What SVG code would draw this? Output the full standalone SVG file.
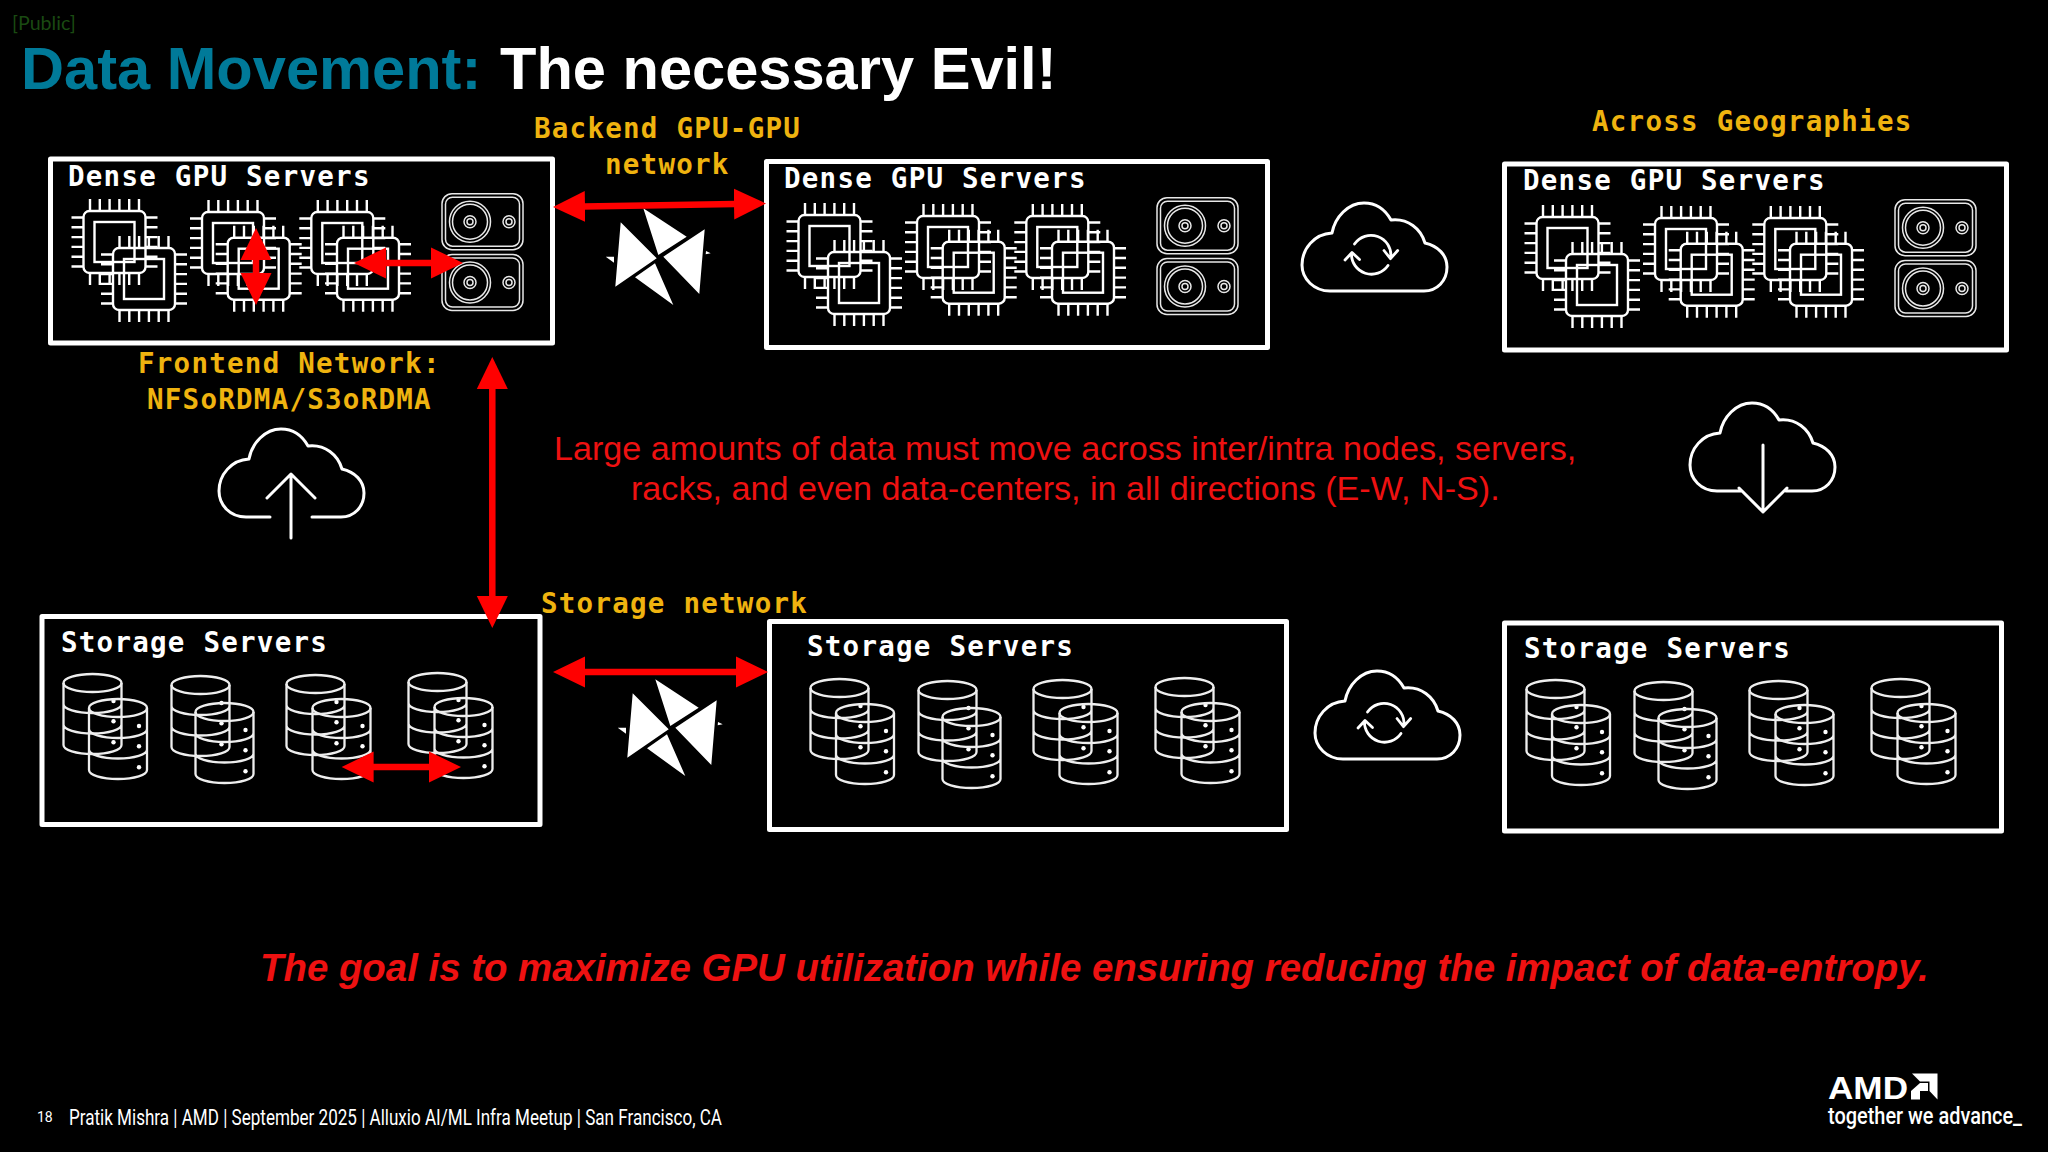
<svg xmlns="http://www.w3.org/2000/svg" width="2048" height="1152" viewBox="0 0 2048 1152">
<style>
.box{fill:none;stroke:#fff;stroke-width:5;stroke-linejoin:round}
.ic{fill:none;stroke:#fff;stroke-width:2.4;stroke-linecap:butt}
.thin{fill:none;stroke:#e8e8e8;stroke-width:1.5}
.cyl{fill:none;stroke:#eee;stroke-width:2.3}
.cloud{fill:none;stroke:#fff;stroke-width:3;stroke-linecap:round;stroke-linejoin:round}
.mono{font-family:"DejaVu Sans Mono","Liberation Mono",monospace;font-weight:700;font-size:27.5px;letter-spacing:1.25px}
.lab{fill:#fff}
.yel{fill:#efb30f}
.red{font-family:"Liberation Sans",Arial,sans-serif;fill:#ee1111;font-size:34.14px}
.conn{fill:none;stroke:#ff0000;stroke-width:6.5;marker-start:url(#ah);marker-end:url(#ah)}
</style>
<defs>
<marker id="ah" markerUnits="userSpaceOnUse" markerWidth="34" markerHeight="34" refX="1" refY="16" orient="auto-start-reverse" viewBox="0 0 34 32"><path d="M0 0.5L32 16L0 31.5Z" fill="#ff0000"/></marker>
<g id="chip">
<rect class="ic" x="-31" y="-31" width="62" height="62" rx="6"/>
<rect class="ic" x="-20" y="-20" width="40" height="40"/>
<path class="ic" d="M-24.5-31V-43M-14.7-31V-43M-4.9-31V-43M4.9-31V-43M14.7-31V-43M24.5-31V-43M-24.5 31V43M-14.7 31V43M-4.9 31V43M4.9 31V43M14.7 31V43M24.5 31V43M-31-24.5H-43M-31-14.7H-43M-31-4.9H-43M-31 4.9H-43M-31 14.7H-43M-31 24.5H-43M31-24.5H43M31-14.7H43M31-4.9H43M31 4.9H43M31 14.7H43M31 24.5H43"/>
</g>
<g id="disk">
<rect class="thin" x="0" y="0" width="81" height="56" rx="10"/>
<rect class="thin" x="3.5" y="3.5" width="74" height="49" rx="7"/>
<circle class="thin" cx="28" cy="28" r="20.5"/><circle class="thin" cx="28" cy="28" r="17.5"/>
<circle class="thin" cx="28" cy="28" r="6"/><circle class="thin" cx="28" cy="28" r="3"/>
<circle class="thin" cx="67" cy="28" r="6"/><circle class="thin" cx="67" cy="28" r="3"/>
</g>
<g id="gpuset">
<use href="#chip" x="65.5" y="87"/><use href="#chip" x="95" y="124"/>
<use href="#chip" x="184" y="88"/><use href="#chip" x="209.7" y="113.7"/>
<use href="#chip" x="293.3" y="88"/><use href="#chip" x="319" y="113.7"/>
<use href="#disk" x="393" y="38.7"/><use href="#disk" x="393" y="99.5"/>
</g>
<g id="cyl">
<ellipse class="cyl" cx="29.5" cy="9" rx="29" ry="9"/>
<path class="cyl" d="M0.5 9V71C0.5 76 13 80 29.5 80S58.5 76 58.5 71V9M0.5 30C0.5 35 13 39 29.5 39S58.5 35 58.5 30M0.5 50.5C0.5 55.5 13 59.5 29.5 59.5S58.5 55.5 58.5 50.5"/>
<circle cx="50.5" cy="27" r="2.2" fill="#fff"/><circle cx="50.5" cy="47.3" r="2.2" fill="#fff"/><circle cx="50.5" cy="68.3" r="2.2" fill="#fff"/>
</g>
<g id="stset">
<use href="#cyl" x="23" y="60"/><use href="#cyl" x="48.5" y="85"/>
<use href="#cyl" x="131" y="62"/><use href="#cyl" x="155" y="89"/>
<use href="#cyl" x="246" y="61"/><use href="#cyl" x="272" y="85"/>
<use href="#cyl" x="368" y="59"/><use href="#cyl" x="394" y="84"/>
</g>
<path id="cloudp" d="M28 88C12 88 0 76 0 62C0 46 12 31 30 30C33 14 46 0 62 0C75 0 84 8 89 17C106 15 119 26 123 40C136 43 145 52 145 64C145 78 135 88 122 88Z"/>
<g id="sync">
<use href="#cloudp" class="cloud"/>
<path class="cloud" d="M52.500 41A20 20 0 0 1 88.900 54M82 47.500L88.500 55.700L95.700 47.500M86 62.500A20 20 0 0 1 49.500 50.500M43 57L50 49.500L57.500 56.500" style="stroke-width:2.8"/>
</g>
<g id="bow" fill="#fff">
<path d="M620.7 222.3L656.7 258.3L615.3 286.7ZM643.3 208.3L686.7 236.7L658.3 255ZM635 277.3L655 263.3L673.3 305ZM704.7 229.3L663.3 256.7L699.3 294ZM605.7 256.7L614 256.7L614 262.7ZM706 251L710.7 253.3L705.7 254.3Z"/>
</g>
</defs>
<rect width="2048" height="1152" fill="#000"/>
<g id="header">
<text x="12" y="30" font-family="Lato,'Open Sans',sans-serif" font-size="19.6" fill="#1a4a12">[Public]</text>
<text x="21" y="89" font-family="'Liberation Sans',Arial,sans-serif" font-weight="700" font-size="59.6" fill="#007a99">Data Movement:</text>
<text x="500" y="89" font-family="'Liberation Sans',Arial,sans-serif" font-weight="700" font-size="59.6" fill="#fff">The necessary Evil!</text>
</g>
<g id="gpu-servers-1"><rect class="box" x="50.500" y="159" width="502" height="184"/><text class="mono lab" x="68" y="186">Dense GPU Servers</text><use href="#gpuset" x="49" y="155"/></g>
<g id="gpu-servers-2"><rect class="box" x="766.500" y="161.500" width="501" height="186"/><text class="mono lab" x="784" y="188">Dense GPU Servers</text><use href="#gpuset" x="764" y="159"/></g>
<g id="gpu-servers-3"><rect class="box" x="1504.500" y="164" width="502" height="186"/><text class="mono lab" x="1523" y="190">Dense GPU Servers</text><use href="#gpuset" x="1502" y="161"/></g>
<g id="storage-servers-1"><rect class="box" x="42" y="616.500" width="498" height="208"/><text class="mono lab" x="61" y="652">Storage Servers</text><use href="#stset" x="40" y="614"/></g>
<g id="storage-servers-2"><rect class="box" x="769.500" y="621.500" width="517" height="208"/><text class="mono lab" x="807" y="656">Storage Servers</text><use href="#stset" x="787" y="619"/></g>
<g id="storage-servers-3"><rect class="box" x="1504.500" y="623" width="497" height="208"/><text class="mono lab" x="1524" y="658">Storage Servers</text><use href="#stset" x="1503" y="620"/></g>
<g id="cloud-sync-1"><use href="#sync" x="1302" y="203"/></g>
<g id="cloud-sync-2"><use href="#sync" x="1315" y="671"/></g>
<g id="cloud-upload"><path class="cloud" d="M270 517H246C230 517 219 505 219 491C219 475 231 460 249 459C252 443 265 429 281 429C294 429 303 437 308 446C325 444 338 455 342 469C355 472 364 481 364 493C364 507 354 517 341 517H312M291 538V474M267 498L291 474L315 498"/></g>
<g id="cloud-download"><path class="cloud" d="M1741 491H1717C1701 491 1690 479 1690 465C1690 449 1702 434 1720 433C1723 417 1736 403 1752 403C1765 403 1774 411 1779 420C1796 418 1809 429 1813 443C1826 446 1835 455 1835 467C1835 481 1825 491 1812 491H1786M1763 445V512M1739 488L1763 512L1787 488"/></g>
<g id="switch-1"><use href="#bow"/></g>
<g id="switch-2"><use href="#bow" x="12" y="471"/></g>
<g id="labels">
<text class="mono yel" x="534" y="138">Backend GPU-GPU</text>
<text class="mono yel" x="605" y="174">network</text>
<text class="mono yel" x="1592" y="131">Across Geographies</text>
<text class="mono yel" x="138" y="373">Frontend Network:</text>
<text class="mono yel" x="147" y="409">NFSoRDMA/S3oRDMA</text>
<text class="mono yel" x="541" y="613">Storage network</text>
<text class="red" x="554" y="460">Large amounts of data must move across inter/intra nodes, servers,</text>
<text class="red" x="631" y="500">racks, and even data-centers, in all directions (E-W, N-S).</text>
<text class="red" x="260" y="981" font-weight="700" font-style="italic" style="font-size:38.400px">The goal is to maximize GPU utilization while ensuring reducing the impact of data-entropy.</text>
</g>
<g id="connectors">
<path class="conn" d="M584 206.500L735 204"/>
<path class="conn" d="M492.300 388V597"/>
<path class="conn" d="M385 263H432"/>
<path class="conn" d="M256 259V274"/>
<path class="conn" d="M372.600 767H430"/>
<path class="conn" d="M584 672H737"/>
</g>
<g id="footer">
<text x="37" y="1122" font-family="Roboto,sans-serif" font-size="14" fill="#fff">18</text>
<text x="69" y="1125" font-family="Roboto,sans-serif" font-size="22" fill="#fff" textLength="653" lengthAdjust="spacingAndGlyphs">Pratik Mishra | AMD | September 2025 | Alluxio AI/ML Infra Meetup | San Francisco, CA</text>
<text x="1828" y="1099" font-family="'Liberation Sans',sans-serif" font-weight="700" font-size="32" fill="#fff" textLength="80" lengthAdjust="spacingAndGlyphs">AMD</text>
<path fill="#fff" d="M1912 1073.500H1937.500V1099.500L1929.500 1091V1081.500H1920ZM1911 1099.500V1091L1920 1083H1928V1091H1920V1099.500Z"/>
<text x="1828" y="1124" font-family="Roboto,sans-serif" font-weight="500" font-size="23" fill="#fff" textLength="194" lengthAdjust="spacingAndGlyphs">together we advance_</text>
</g>
</svg>
